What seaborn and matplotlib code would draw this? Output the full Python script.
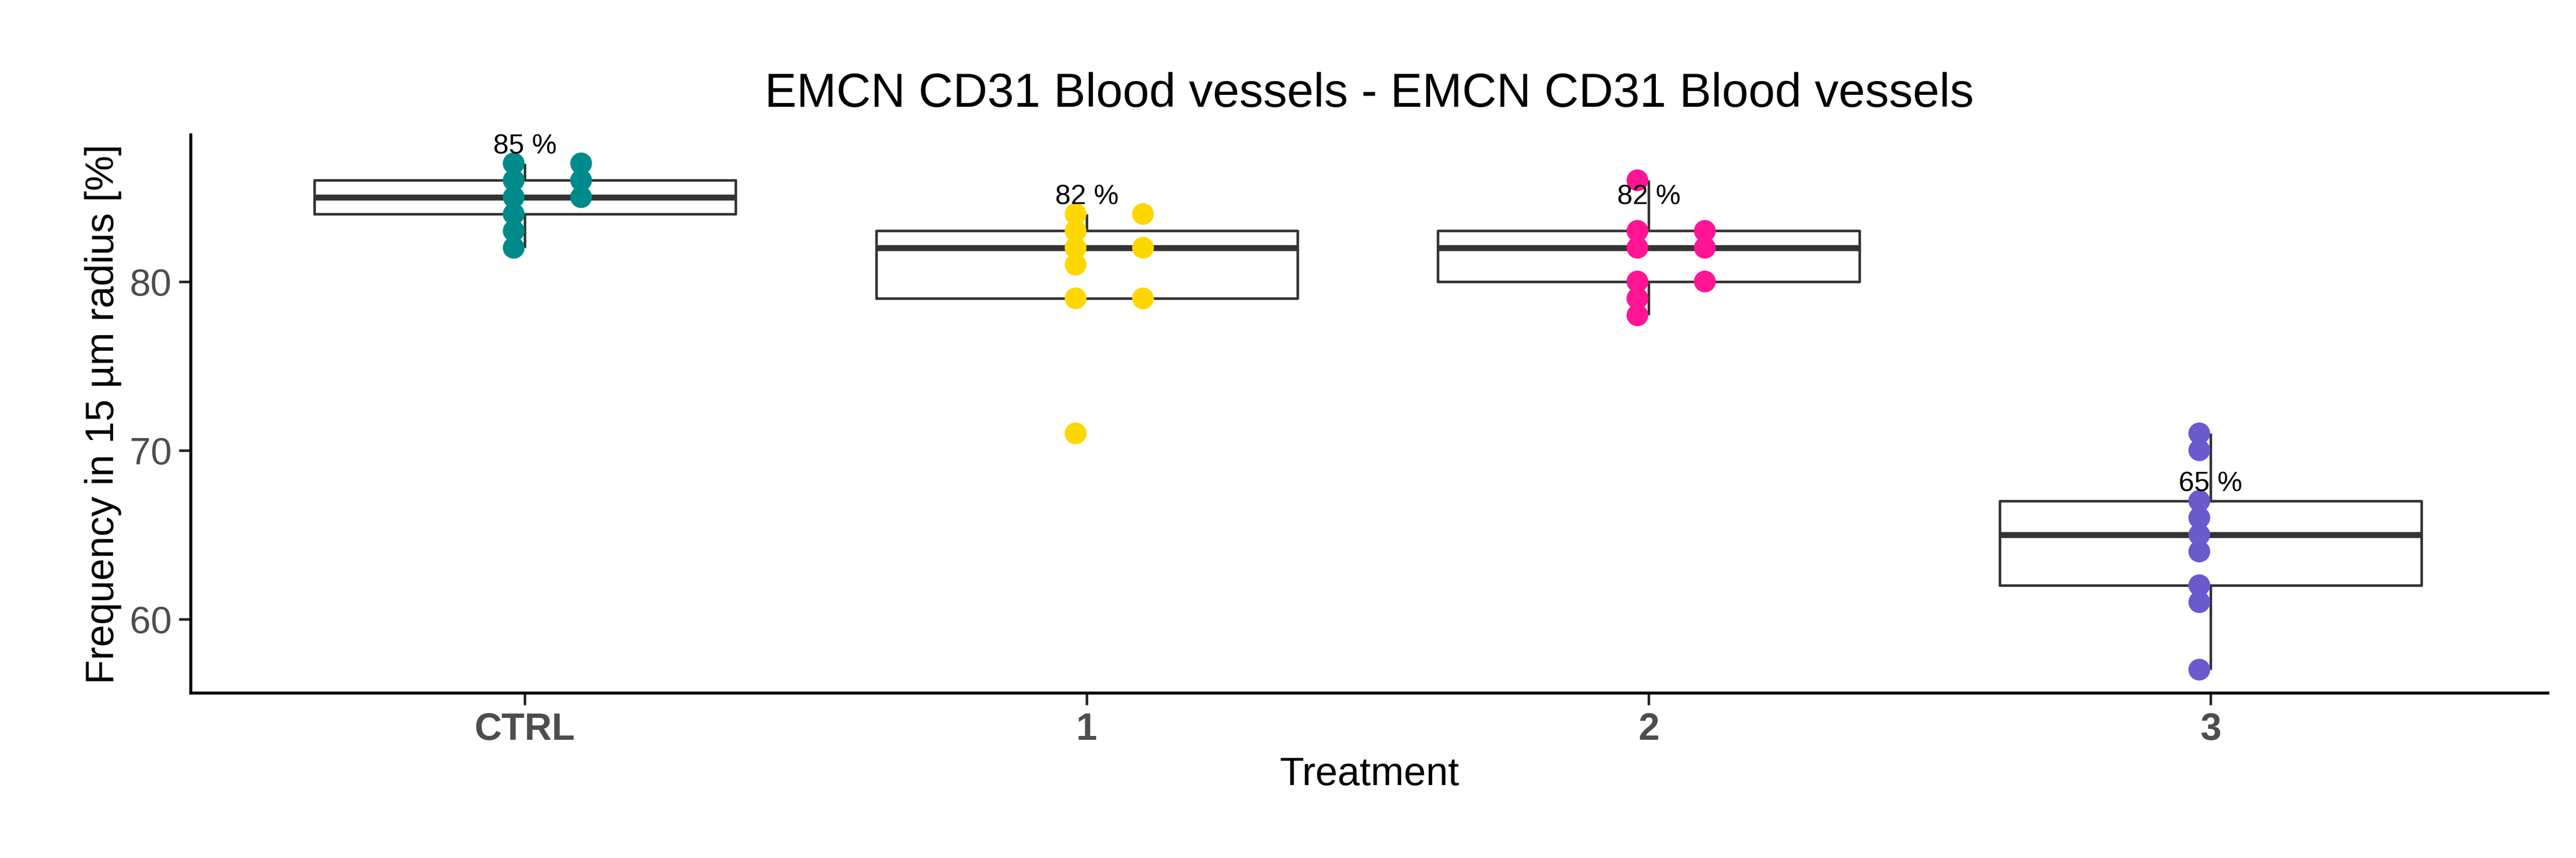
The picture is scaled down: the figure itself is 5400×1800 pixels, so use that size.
import numpy as np
import pandas as pd
import seaborn as sns
import matplotlib.pyplot as plt

groups = ["CTRL", "1", "2", "3"]
colors = ["#008B8B", "#FFD700", "#FF1493", "#6A5ACD"]

ctrl_vals = [87, 86, 85, 84, 83, 82, 87, 86, 85]
ctrl_cols = [0, 0, 0, 0, 0, 0, 1, 1, 1]
t1_vals = [84, 83, 82, 81, 79, 71, 84, 82, 79]
t1_cols = [0, 0, 0, 0, 0, 0, 1, 1, 1]
t2_vals = [86, 83, 82, 80, 79, 78, 83, 82, 80]
t2_cols = [0, 0, 0, 0, 0, 0, 1, 1, 1]
t3_vals = [71, 70, 67, 66, 65, 64, 62, 61, 57]
t3_cols = [0, 0, 0, 0, 0, 0, 0, 0, 0]

rows = []
for g, vals, cols in zip(groups, [ctrl_vals, t1_vals, t2_vals, t3_vals],
                         [ctrl_cols, t1_cols, t2_cols, t3_cols]):
    for v, c in zip(vals, cols):
        rows.append({"Treatment": g, "value": v, "col": c})
df = pd.DataFrame(rows)
df["xpos"] = df["Treatment"].map({g: i for i, g in enumerate(groups)}) - 0.02 + 0.12 * df["col"]

sns.set_style("ticks")
plt.rcParams['font.family'] = ['Liberation Sans', 'DejaVu Sans']

fig = plt.figure(figsize=(18, 6), dpi=300)
ax = fig.add_axes([0.074, 0.192, 0.915, 0.651])

sns.boxplot(data=df, x="Treatment", y="value", order=groups, width=0.75,
            fill=False, color="#333333", linewidth=1.3, showfliers=False,
            capprops={"visible": False},
            medianprops={"linewidth": 3, "color": "#333333"}, ax=ax)
for i, g in enumerate(groups):
    sub = df[df["Treatment"] == g]
    sns.scatterplot(x=sub["xpos"], y=sub["value"], color=colors[i], s=120,
                    edgecolor="none", ax=ax, zorder=5)
    med = sub["value"].median()
    ax.text(i, med + 3, f"{med:.0f} %", ha="center", va="center", fontsize=14,
            color="black", zorder=6)

ax.set_xlim(-0.595, 3.6)
ax.set_ylim(55.6, 88.7)
ax.set_xticks(range(4))
ax.set_xticklabels(groups, fontsize=19, fontweight="bold", color="#4d4d4d")
ax.set_yticks([60, 70, 80])
ax.tick_params(axis="y", labelsize=19, labelcolor="#4d4d4d", length=6, width=1.3)
ax.tick_params(axis="x", length=6, width=1.3)
ax.set_xlabel("Treatment", fontsize=20, color="black")
ax.set_ylabel("Frequency in 15 µm radius [%]", fontsize=20, color="black")
ax.set_title("EMCN CD31 Blood vessels - EMCN CD31 Blood vessels", fontsize=24,
             pad=14, color="black")
sns.despine(ax=ax)
for s in ["left", "bottom"]:
    ax.spines[s].set_linewidth(1.5)
    ax.spines[s].set_color("black")

fig.savefig("out.png", dpi=300)
